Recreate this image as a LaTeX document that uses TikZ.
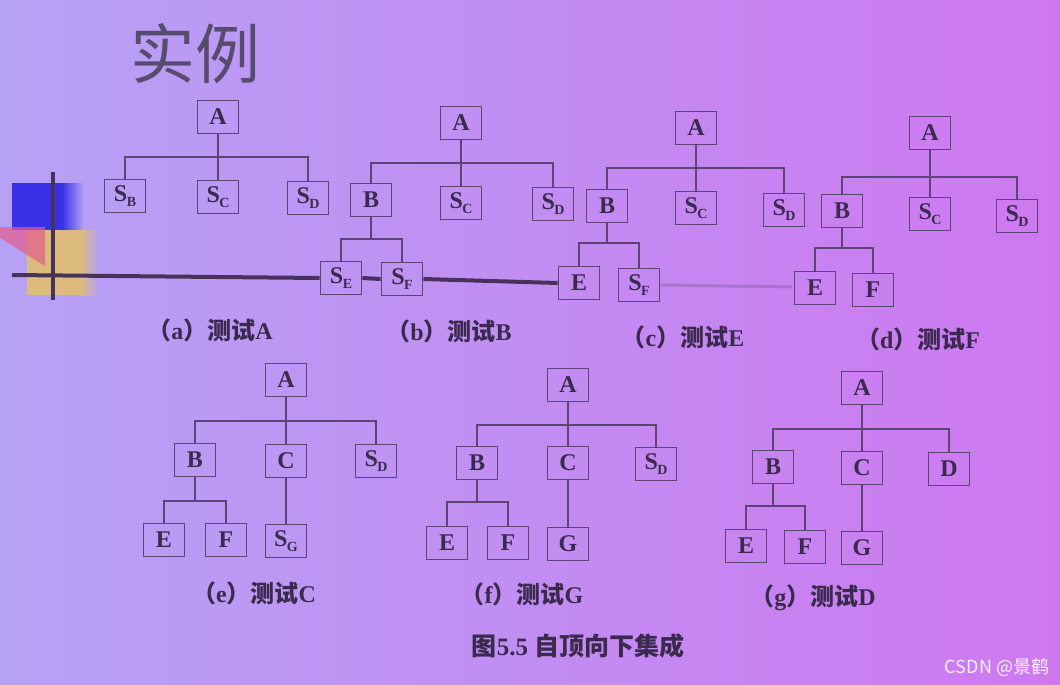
\documentclass[tikz,border=0pt]{standalone}
\usepackage{fontspec}
\setmainfont{Liberation Serif}
\newfontfamily\cjk{Noto Sans CJK SC}
\newfontfamily\wmfont{Noto Sans CJK SC}
\definecolor{bgl}{RGB}{182,162,245}
\definecolor{bgr}{RGB}{206,120,240}
\definecolor{boxc}{RGB}{92,68,118}
\definecolor{txtc}{RGB}{58,42,78}
\definecolor{titc}{RGB}{88,76,110}
\definecolor{decob}{RGB}{58,48,232}
\definecolor{decor}{RGB}{228,92,140}
\definecolor{decoy}{RGB}{226,190,112}
\definecolor{decol}{RGB}{70,50,90}
\newcommand\Sb[1]{S\kern-0.5pt\raisebox{-4.5pt}{\fontsize{14}{14}\selectfont #1}}
\newcommand\lab[2]{{\cjk\bfseries （}#1{\cjk\bfseries ）测试}#2}
\tikzset{
  bx/.style={draw=boxc, line width=1.7pt, minimum width=41pt, minimum height=33pt,
    inner sep=0pt, text=txtc, font=\fontsize{24}{24}\selectfont\bfseries},
  ln/.style={draw=boxc, line width=1.7pt},
  lbl/.style={text=txtc, font=\fontsize{24}{24}\selectfont\bfseries, inner sep=0pt},
  decoline/.style={draw=decol, line width=4pt}
}
\begin{document}
\begin{tikzpicture}[x=1pt,y=-1pt]
% background
\shade[left color=bgl, right color=bgr] (0,0) rectangle (1060,685);
\useasboundingbox (0,0) rectangle (1060,685);
% decoration on left
\fill[decob] (12,183) rectangle (62,230);
\shade[left color=decob, right color=bgl] (62,183) rectangle (84,230);
\fill[decoy, opacity=0.9] (27,230) rectangle (80,295);
\shade[left color=decoy, right color=bgl, opacity=0.9] (80,230) rectangle (98,295);
\fill[decor, opacity=0.7] (0,227) -- (45,227) -- (45,266) -- (0,238) -- cycle;
\draw[decol, line width=3.5pt] (53,172) -- (53,300);
% title
\node[text=titc, font=\cjk\fontsize{65}{65}\selectfont, inner sep=0pt] (title) at (195,54) {实例};

% ---------- (a)
\node[bx] (aA) at (218,117) {A};
\node[bx] (aSB) at (125,196) {\Sb{B}};
\node[bx] (aSC) at (218,197) {\Sb{C}};
\node[bx] (aSD) at (308,198) {\Sb{D}};
\coordinate (aj) at (218,157);
\draw[ln] (aA.south) -- (aSC.north);
\draw[ln] (aSB.north) |- (aj) -| (aSD.north);
\node[lbl] (la) at (210,330) {\lab{a}{A}};

% ---------- (b)
\node[bx] (bA) at (461,123) {A};
\node[bx] (bB) at (371,200) {B};
\node[bx] (bSC) at (461,203) {\Sb{C}};
\node[bx] (bSD) at (553,204) {\Sb{D}};
\node[bx] (bSE) at (341,278) {\Sb{E}};
\node[bx] (bSF) at (402,279) {\Sb{F}};
\coordinate (bj) at (461,163);
\coordinate (bk) at (371,239);
\draw[ln] (bA.south) -- (bSC.north);
\draw[ln] (bB.north) |- (bj) -| (bSD.north);
\draw[ln] (bB.south) -- (bk);
\draw[ln] (bSE.north) |- (bk) -| (bSF.north);
\node[lbl] (lb) at (449,331) {\lab{b}{B}};

% ---------- (c)
\node[bx] (cA) at (696,128) {A};
\node[bx] (cB) at (607,206) {B};
\node[bx] (cSC) at (696,208) {\Sb{C}};
\node[bx] (cSD) at (784,210) {\Sb{D}};
\node[bx] (cE) at (579,283) {E};
\node[bx] (cSF) at (639,285) {\Sb{F}};
\coordinate (cj) at (696,168);
\coordinate (ck) at (607,243);
\draw[ln] (cA.south) -- (cSC.north);
\draw[ln] (cB.north) |- (cj) -| (cSD.north);
\draw[ln] (cB.south) -- (ck);
\draw[ln] (cE.north) |- (ck) -| (cSF.north);
\node[lbl] (lc) at (683,337) {\lab{c}{E}};

% ---------- (d)
\node[bx] (dA) at (930,133) {A};
\node[bx] (dB) at (842,211) {B};
\node[bx] (dSC) at (930,214) {\Sb{C}};
\node[bx] (dSD) at (1017,216) {\Sb{D}};
\node[bx] (dE) at (815,288) {E};
\node[bx] (dF) at (873,290) {F};
\coordinate (dj) at (930,177);
\coordinate (dk) at (842,248);
\draw[ln] (dA.south) -- (dSC.north);
\draw[ln] (dB.north) |- (dj) -| (dSD.north);
\draw[ln] (dB.south) -- (dk);
\draw[ln] (dE.north) |- (dk) -| (dF.north);
\node[lbl] (ld) at (918,339) {\lab{d}{F}};

% decorative horizontal line (slide background)
\draw[decoline] (12,275) -- (bSE.west);
\draw[decoline] (bSE.east) -- (bSF.west);
\draw[decoline] (bSF.east) -- (cE.west);
\draw[decol, line width=3pt, opacity=0.22] (cSF.east) -- (792,287);

% ---------- (e)
\node[bx] (eA) at (286,380) {A};
\node[bx] (eB) at (195,460) {B};
\node[bx] (eC) at (286,461) {C};
\node[bx] (eSD) at (376,461) {\Sb{D}};
\node[bx] (eE) at (164,540) {E};
\node[bx] (eF) at (226,540) {F};
\node[bx] (eSG) at (286,541) {\Sb{G}};
\coordinate (ej) at (286,421);
\coordinate (ek) at (195,501);
\draw[ln] (eA.south) -- (eC.north);
\draw[ln] (eB.north) |- (ej) -| (eSD.north);
\draw[ln] (eB.south) -- (ek);
\draw[ln] (eE.north) |- (ek) -| (eF.north);
\draw[ln] (eC.south) -- (eSG.north);
\node[lbl] (le) at (254,593) {\lab{e}{C}};

% ---------- (f)
\node[bx] (fA) at (568,385) {A};
\node[bx] (fB) at (477,463) {B};
\node[bx] (fC) at (568,463) {C};
\node[bx] (fSD) at (656,464) {\Sb{D}};
\node[bx] (fE) at (447,543) {E};
\node[bx] (fF) at (508,543) {F};
\node[bx] (fG) at (568,544) {G};
\coordinate (fj) at (568,425);
\coordinate (fk) at (477,502);
\draw[ln] (fA.south) -- (fC.north);
\draw[ln] (fB.north) |- (fj) -| (fSD.north);
\draw[ln] (fB.south) -- (fk);
\draw[ln] (fE.north) |- (fk) -| (fF.north);
\draw[ln] (fC.south) -- (fG.north);
\node[lbl] (lf) at (522,594) {\lab{f}{G}};

% ---------- (g)
\node[bx] (gA) at (862,388) {A};
\node[bx] (gB) at (773,467) {B};
\node[bx] (gC) at (862,468) {C};
\node[bx] (gD) at (949,469) {D};
\node[bx] (gE) at (746,546) {E};
\node[bx] (gF) at (805,547) {F};
\node[bx] (gG) at (862,548) {G};
\coordinate (gj) at (862,429);
\coordinate (gk) at (773,506);
\draw[ln] (gA.south) -- (gC.north);
\draw[ln] (gB.north) |- (gj) -| (gD.north);
\draw[ln] (gB.south) -- (gk);
\draw[ln] (gE.north) |- (gk) -| (gF.north);
\draw[ln] (gC.south) -- (gG.north);
\node[lbl] (lg) at (813,598) {\lab{g}{D}};

% caption
\node[lbl, font=\fontsize{25}{25}\selectfont\bfseries] (cap) at (578,646) {{\cjk\bfseries 图}5.5 {\cjk\bfseries 自顶向下集成}};
% watermark
\node[text=white!92!bgr, font=\wmfont\fontsize{18}{18}\selectfont, inner sep=0pt] (wm) at (997,667) {CSDN @景鹤};
\end{tikzpicture}
\end{document}
